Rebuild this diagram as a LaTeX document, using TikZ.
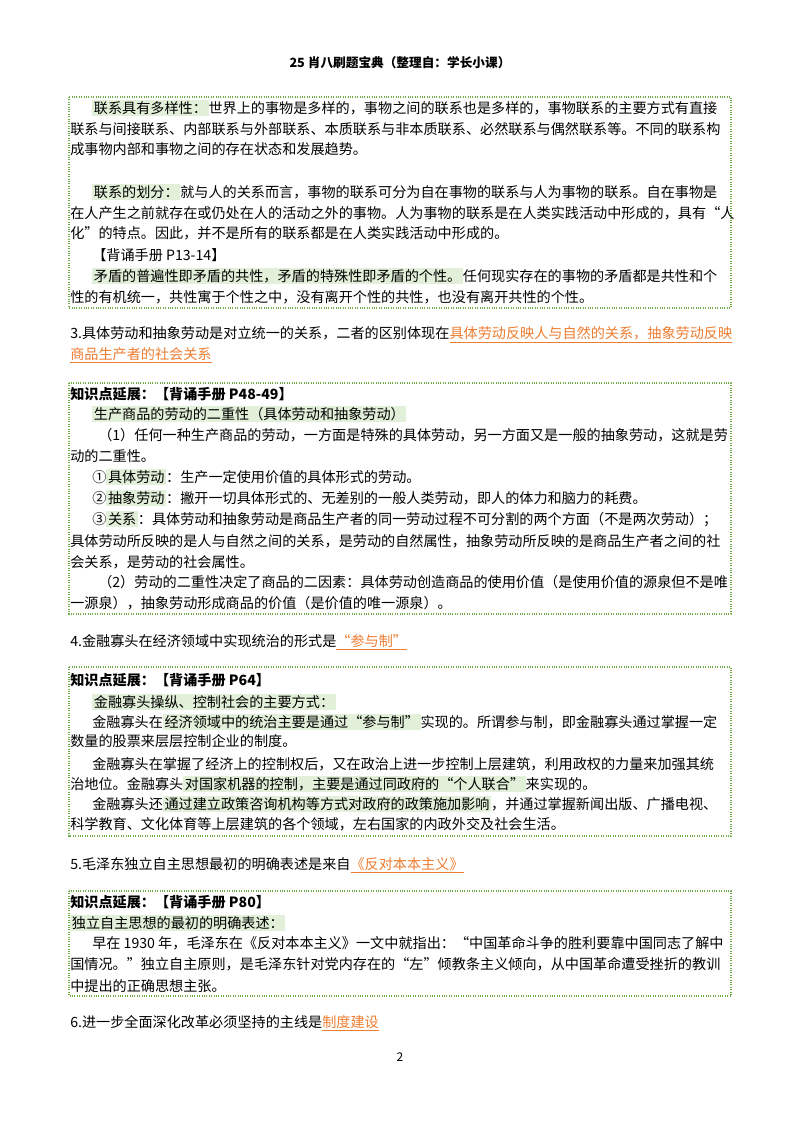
\documentclass[tikz,border=0pt]{standalone}
\usepackage{fontspec}
\setmainfont{Noto Sans CJK SC}
\definecolor{hlgreen}{HTML}{E2EFD9}
\definecolor{boxgreen}{HTML}{70AD47}
\definecolor{ansorange}{HTML}{ED7D31}
\newcommand{\hlt}[1]{{\setlength\fboxsep{1.2pt}\colorbox{hlgreen}{#1}}}
\newcommand{\ans}[1]{\textcolor{ansorange}{\underline{#1}}}
\tikzset{
  txt/.style={anchor=west, inner sep=0pt, font=\fontsize{10.6}{13}\selectfont},
  kbox/.style={draw=boxgreen, densely dotted, line width=0.8pt},
}
\begin{document}
\begin{tikzpicture}[x=0.75pt,y=-0.75pt]
        \useasboundingbox[fill=white] (0,0) rectangle (800,1132);
        \node[font=\fontsize{9.5}{11}\selectfont\bfseries] (head) at (400,63) {25 肖八刷题宝典（整理自：学长小课）};
        % box 1
        \draw[kbox] (69,97) rectangle (731,308);
        \node[txt] (a1) at (92,108) {\hlt{联系具有多样性：}世界上的事物是多样的，事物之间的联系也是多样的，事物联系的主要方式有直接};
        \node[txt] (a2) at (70,129) {联系与间接联系、内部联系与外部联系、本质联系与非本质联系、必然联系与偶然联系等。不同的联系构};
        \node[txt] (a3) at (70,149) {成事物内部和事物之间的存在状态和发展趋势。};
        \node[txt] (a4) at (92,192) {\hlt{联系的划分：}就与人的关系而言，事物的联系可分为自在事物的联系与人为事物的联系。自在事物是};
        \node[txt] (a5) at (70,213) {在人产生之前就存在或仍处在人的活动之外的事物。人为事物的联系是在人类实践活动中形成的，具有“人};
        \node[txt] (a6) at (70,233) {化”的特点。因此，并不是所有的联系都是在人类实践活动中形成的。};
        \node[txt] (a7) at (92,255) {【背诵手册 P13-14】};
        \node[txt] (a8) at (92,276) {\hlt{矛盾的普遍性即矛盾的共性，矛盾的特殊性即矛盾的个性。}任何现实存在的事物的矛盾都是共性和个};
        \node[txt] (a9) at (70,297) {性的有机统一，共性寓于个性之中，没有离开个性的共性，也没有离开共性的个性。};
        % question 3
        \node[txt] (q3a) at (70,335) {3.具体劳动和抽象劳动是对立统一的关系，二者的区别体现在\ans{具体劳动反映人与自然的关系，抽象劳动反映}};
        \node[txt] (q3b) at (70,355) {\ans{商品生产者的社会关系}};
        % box 2
        \draw[kbox] (69,383) rectangle (731,614);
        \node[txt] (b1) at (70,394) {\bfseries 知识点延展：【背诵手册 P48-49】};
        \node[txt] (b2) at (92,414) {\hlt{生产商品的劳动的二重性（具体劳动和抽象劳动）}};
        \node[txt] (b3) at (98,435) {（1）任何一种生产商品的劳动，一方面是特殊的具体劳动，另一方面又是一般的抽象劳动，这就是劳};
        \node[txt] (b4) at (70,456) {动的二重性。};
        \node[txt] (b5) at (92,477) {①\hlt{具体劳动}：生产一定使用价值的具体形式的劳动。};
        \node[txt] (b6) at (92,498) {②\hlt{抽象劳动}：撇开一切具体形式的、无差别的一般人类劳动，即人的体力和脑力的耗费。};
        \node[txt] (b7) at (92,519) {③\hlt{关系}：具体劳动和抽象劳动是商品生产者的同一劳动过程不可分割的两个方面（不是两次劳动）；};
        \node[txt] (b8) at (70,541) {具体劳动所反映的是人与自然之间的关系，是劳动的自然属性，抽象劳动所反映的是商品生产者之间的社};
        \node[txt] (b9) at (70,562) {会关系，是劳动的社会属性。};
        \node[txt] (b10) at (98,582) {（2）劳动的二重性决定了商品的二因素：具体劳动创造商品的使用价值（是使用价值的源泉但不是唯};
        \node[txt] (b11) at (70,603) {一源泉），抽象劳动形成商品的价值（是价值的唯一源泉）。};
        % question 4
        \node[txt] (q4) at (70,642) {4.金融寡头在经济领域中实现统治的形式是\ans{“参与制”}};
        % box 3
        \draw[kbox] (69,667) rectangle (731,836);
        \node[txt] (c1) at (70,680) {\bfseries 知识点延展：【背诵手册 P64】};
        \node[txt] (c2) at (92,702) {\hlt{金融寡头操纵、控制社会的主要方式：}};
        \node[txt] (c3) at (92,722) {金融寡头在\hlt{经济领域中的统治主要是通过“参与制”}实现的。所谓参与制，即金融寡头通过掌握一定};
        \node[txt] (c4) at (70,741) {数量的股票来层层控制企业的制度。};
        \node[txt] (c5) at (92,764) {金融寡头在掌握了经济上的控制权后，又在政治上进一步控制上层建筑，利用政权的力量来加强其统};
        \node[txt] (c6) at (70,784) {治地位。金融寡头\hlt{对国家机器的控制，主要是通过同政府的“个人联合”}来实现的。};
        \node[txt] (c7) at (92,804) {金融寡头还\hlt{通过建立政策咨询机构等方式对政府的政策施加影响}，并通过掌握新闻出版、广播电视、};
        \node[txt] (c8) at (70,824) {科学教育、文化体育等上层建筑的各个领域，左右国家的内政外交及社会生活。};
        % question 5
        \node[txt] (q5) at (70,865) {5.毛泽东独立自主思想最初的明确表述是来自\ans{《反对本本主义》}};
        % box 4
        \draw[kbox] (69,891) rectangle (731,996);
        \node[txt] (d1) at (70,902) {\bfseries 知识点延展：【背诵手册 P80】};
        \node[txt] (d2) at (70,923) {\hlt{独立自主思想的最初的明确表述：}};
        \node[txt] (d3) at (92,943) {早在 1930 年，毛泽东在《反对本本主义》一文中就指出：“中国革命斗争的胜利要靠中国同志了解中};
        \node[txt] (d4) at (70,964) {国情况。”独立自主原则，是毛泽东针对党内存在的“左”倾教条主义倾向，从中国革命遭受挫折的教训};
        \node[txt] (d5) at (70,986) {中提出的正确思想主张。};
        % question 6
        \node[txt] (q6) at (70,1023) {6.进一步全面深化改革必须坚持的主线是\ans{制度建设}};
        \node[font=\fontsize{9}{11}\selectfont] (pg) at (400,1057) {2};
\end{tikzpicture}
\end{document}
